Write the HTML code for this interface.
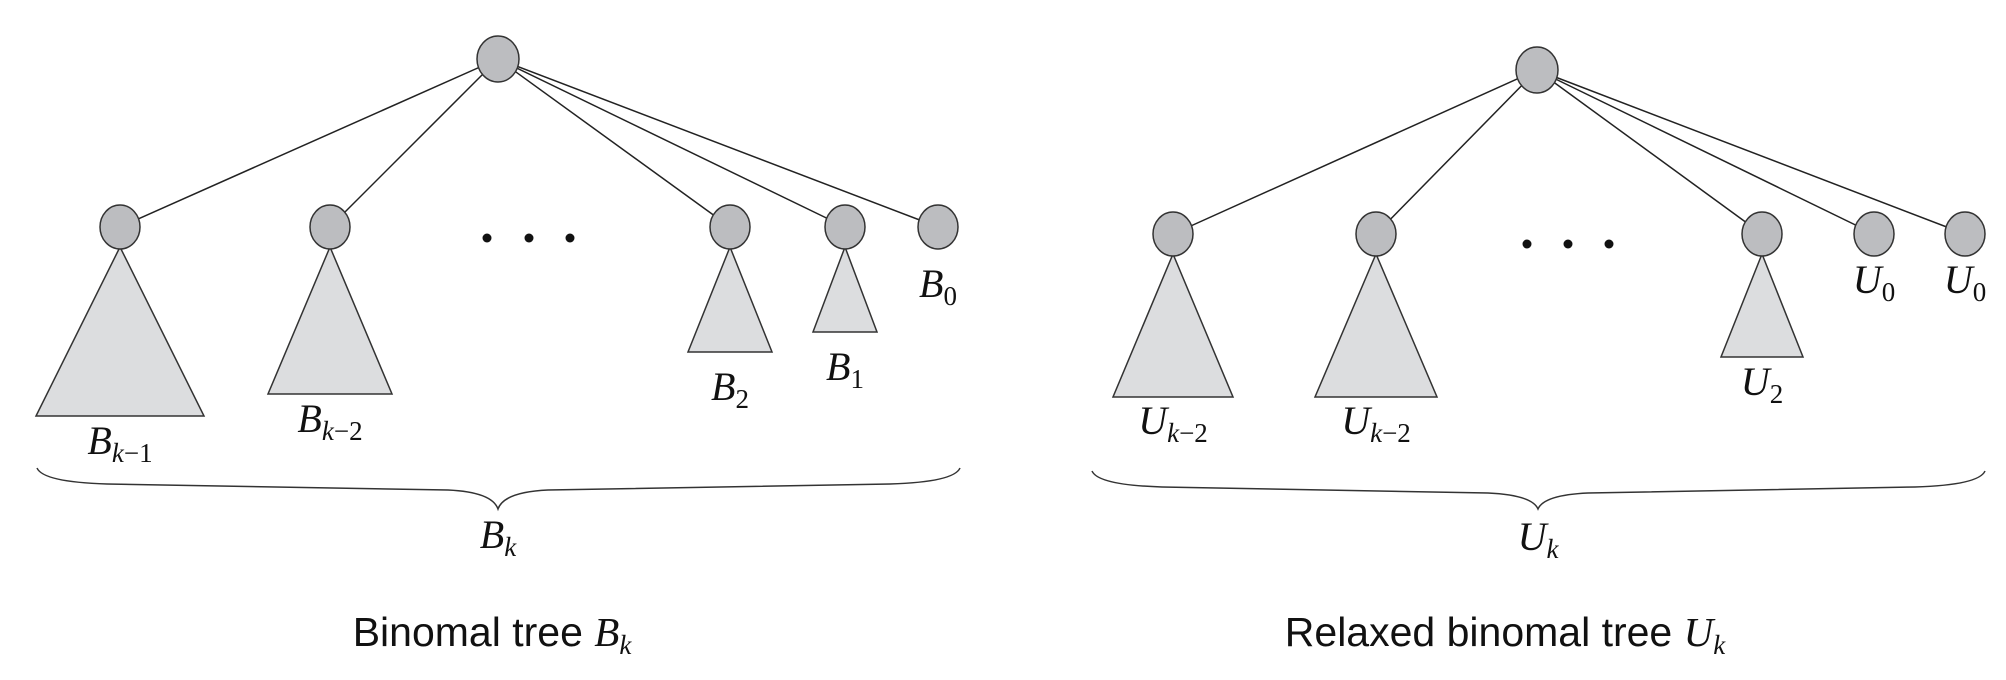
<!DOCTYPE html>
<html><head><meta charset="utf-8"><style>
html,body{margin:0;padding:0;background:#fff;}
svg{display:block;}
.lab{font-family:"Liberation Serif",serif;font-style:italic;font-size:40px;fill:#111;}
.sub{font-size:27px;font-style:normal;}
.cap{font-family:"Liberation Sans",sans-serif;font-size:41px;fill:#111;}
</style></head><body>
<svg id="chart" width="2006" height="680" viewBox="0 0 2006 680" xmlns="http://www.w3.org/2000/svg"></svg>
<script>
const NS='http://www.w3.org/2000/svg';
const svg=document.getElementById('chart');
const leftRoot=[498,59];
const leftChildX=[120,330,730,845,938];
const leftChildY=227;
const leftTriBase=[416,394,352,332,null];
const leftTriHalf=[84,62,42,32,0];
const leftLabels=[['B','k−1'],['B','k−2'],['B','2'],['B','1'],['B','0']];
const leftLabelY=[454,432,400,380,297];
const rightRoot=[1537,70];
const rightChildX=[1173,1376,1762,1874,1965];
const rightChildY=234;
const rightTriBase=[397,397,357,null,null];
const rightTriHalf=[60,61,41,0,0];
const rightLabels=[['U','k−2'],['U','k−2'],['U','2'],['U','0'],['U','0']];
const rightLabelY=[434,434,395,293,293];

function el(tag,attrs,parent){const e=document.createElementNS(NS,tag);for(const k in attrs)e.setAttribute(k,attrs[k]);(parent||svg).appendChild(e);return e;}
function addSub(t,sub){
  const b=el('tspan',{class:'sub',dy:8},t);
  for(const ch of sub){
    const s=el('tspan',ch==='k'?{'font-style':'italic'}:{},b);s.textContent=ch;
  }
}
function label(x,y,main,sub,name){
  const t=el('text',{x:x,y:y,'text-anchor':'middle',class:'lab'});
  
  
  const a=el('tspan',{},t);a.textContent=main;
  addSub(t,sub);
  return t;
}
function brace(x1,x2,top,tip,mid){
  const p=el('path',{d:`M${x1},${top} Q${x1+6},${top+14} ${x1+70},${top+16} L${mid-50},${top+22} Q${mid-6},${top+24} ${mid},${tip} Q${mid+6},${top+24} ${mid+50},${top+22} L${x2-70},${top+16} Q${x2-6},${top+14} ${x2},${top}`,fill:'none',stroke:'#333','stroke-width':1.5});
  
  
}
function tree(side,root,cx,cy,base,half,labs,ly,dots,br,total,cap,capX){
  const g=el('g',{});
  
  
  cx.forEach((x,i)=>{
    const l=el('line',{x1:root[0],y1:root[1],x2:x,y2:cy,stroke:'#222','stroke-width':1.5},g);
    
    
  });
  cx.forEach((x,i)=>{
    if(base[i]!==null){
      const t=el('polygon',{points:`${x},${cy+20} ${x-half[i]},${base[i]} ${x+half[i]},${base[i]}`,fill:'#dcdddf',stroke:'#333','stroke-width':1.5},g);
      
      
    }
  });
  cx.forEach((x,i)=>{
    const c=el('ellipse',{cx:x,cy:cy,rx:20,ry:22,fill:'#bcbdc0',stroke:'#333','stroke-width':1.5},g);
    
    
    label(x,ly[i],labs[i][0],labs[i][1],'subtree-label');
  });
  const r=el('ellipse',{cx:root[0],cy:root[1],rx:21,ry:23,fill:'#bcbdc0',stroke:'#333','stroke-width':1.5},g);
  
  
  dots.xs.forEach(x=>{
    const d=el('circle',{cx:x,cy:dots.y,r:4.5,fill:'#111'},g);
    
    
  });
  brace(br[0],br[1],br[2],br[3],br[4]);
  label(br[4],total[0],total[1],'k','total-label');
  const c=el('text',{x:capX,y:646,'text-anchor':'middle',class:'cap'});
  
  
  const a=el('tspan',{},c);a.textContent=cap+' ';
  const b=el('tspan',{'font-family':'Liberation Serif, serif','font-style':'italic'},c);b.textContent=total[1];
  const s=el('tspan',{'font-family':'Liberation Serif, serif','font-style':'italic','font-size':'27px',dy:8},c);s.textContent='k';
}
tree('binomial',leftRoot,leftChildX,leftChildY,leftTriBase,leftTriHalf,leftLabels,leftLabelY,{xs:[487,529,570],y:238},[37,960,468,509,498],[548,'B'],'Binomal tree',492);
tree('relaxed',rightRoot,rightChildX,rightChildY,rightTriBase,rightTriHalf,rightLabels,rightLabelY,{xs:[1527,1568,1609],y:244},[1092,1985,471,509,1538],[550,'U'],'Relaxed binomal tree',1505);
</script>
</body></html>
